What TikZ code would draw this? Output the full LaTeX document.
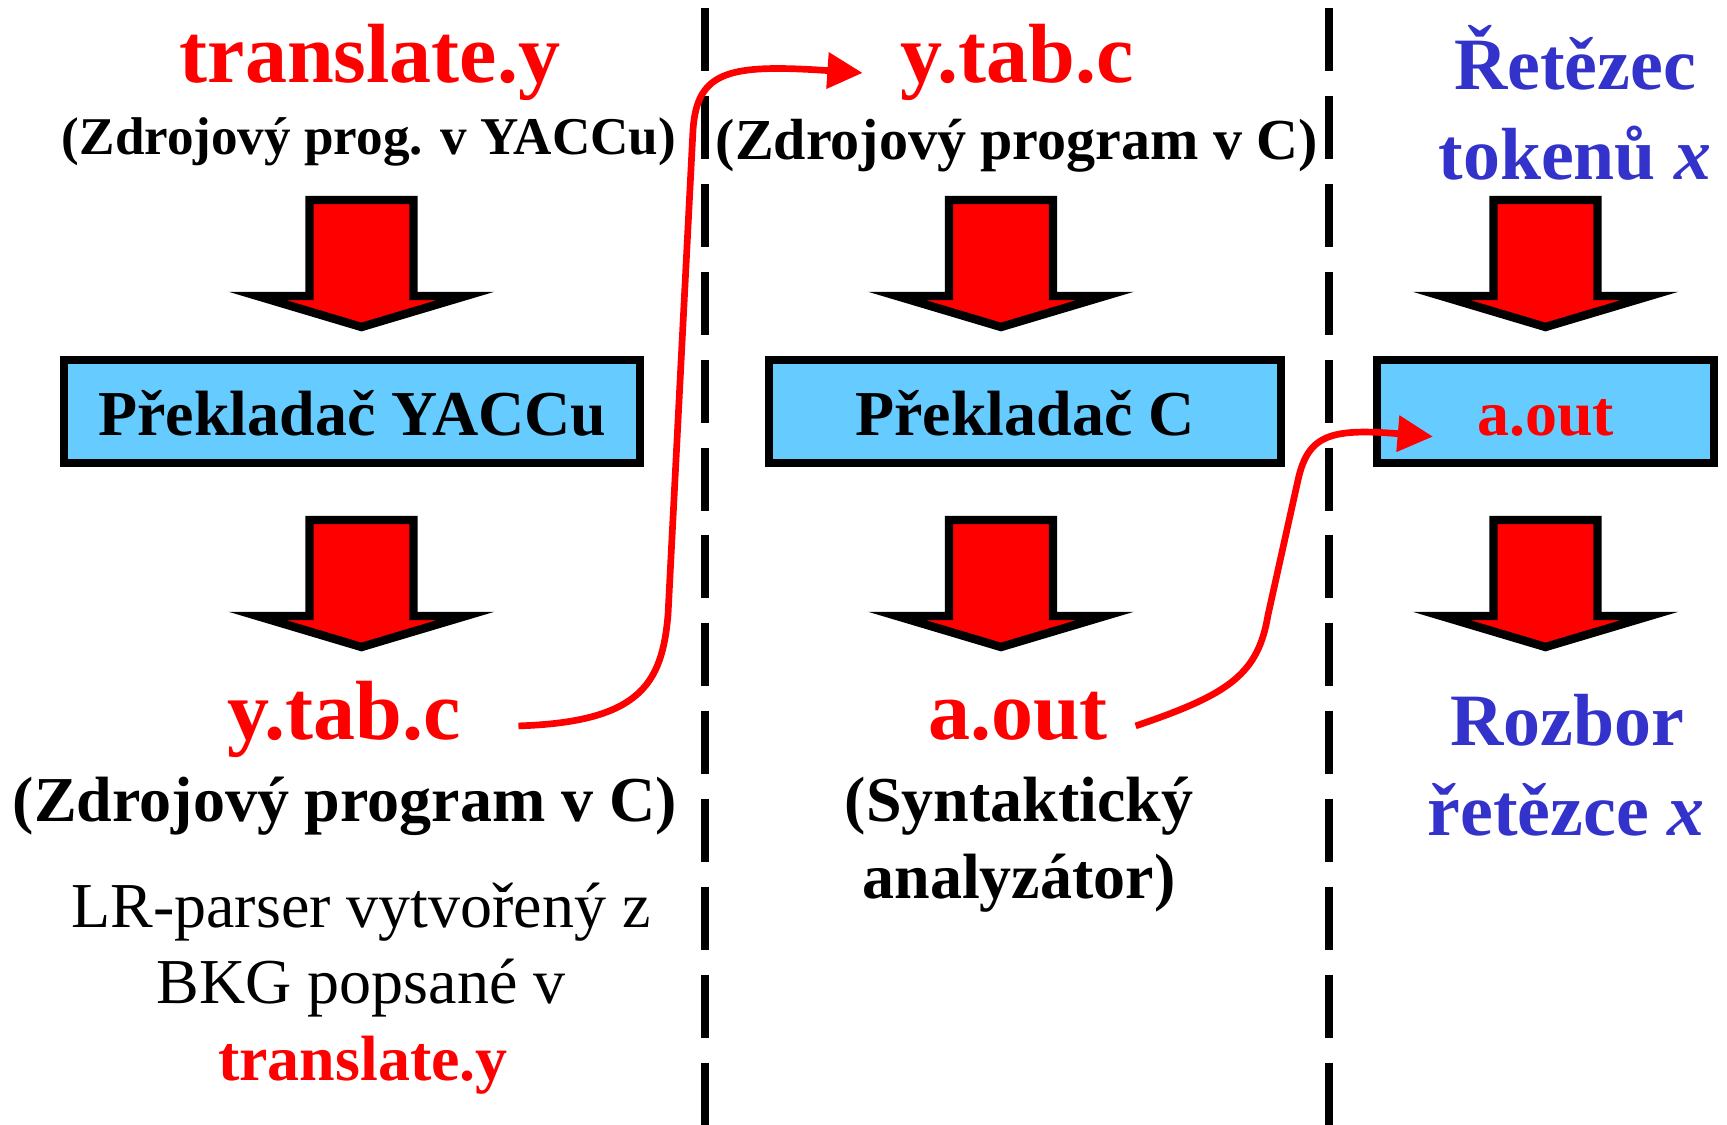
\documentclass[tikz,border=0pt]{standalone}
\usepackage{fontspec}
\setmainfont{Liberation Serif}
\usepackage{tikz}
\usetikzlibrary{calc,arrows.meta}

\definecolor{modra}{RGB}{51,51,204}
\definecolor{svetlemodra}{RGB}{102,204,255}

\tikzset{
  soubor/.style={font=\bfseries\fontsize{23.9pt}{28pt}\selectfont, text=red, inner sep=0pt, anchor=base},
  zavorka/.style={font=\bfseries\fontsize{#1}{#1}\selectfont, inner sep=0pt, anchor=base},
  zavorka/.default=18.2pt,
  obyc/.style={font=\fontsize{18.2pt}{22pt}\selectfont, inner sep=0pt, anchor=base},
  modry/.style={font=\bfseries\fontsize{21pt}{25pt}\selectfont, text=modra, inner sep=0pt, anchor=base},
  blok/.style={draw, line width=2.3pt, fill=svetlemodra, minimum height=1.033cm, inner sep=0pt,
    text height=13.7pt, text depth=0pt, font=\bfseries\fontsize{18.2pt}{22pt}\selectfont},
  carka/.style={line width=2.1pt, dash pattern=on 17.9pt off 7.1pt},
  spoj/.style={red, line width=1.9pt, -{Triangle[length=10pt,width=10pt]}},
  sipka/.pic={
    \draw[line width=2.4pt, fill=red, line join=miter]
      (-52,0) -- (52,0) -- (52,96) -- (104,96) -- (0,127) -- (-104,96) -- (-52,96) -- cycle;
  }
}

\begin{document}
\begin{tikzpicture}[x=0.01cm, y=-0.01cm]
    \useasboundingbox (0,0) rectangle (1727,1125);

    % Dělicí čáry
    \draw[carka] (705,8) -- (705,1125);
    \draw[carka] (1329,8) -- (1329,1125);

    % Překlad YACCem
    \node[soubor] (zdroj) at (370,83) {translate.y};
    \node[zavorka=15.1pt] (zdrojpop) at (369,155) {(Zdrojový prog. v YACCu)};
    \pic at (361.5,200) {sipka};
    \node[blok, minimum width=5.754cm] (yacc) at (352.3,411.6) {Překladač YACCu};
    \pic at (361.5,520) {sipka};
    \node[soubor] (ytabL) at (344,740) {y.tab.c};
    \node[zavorka] (ytabLpop) at (345,822) {(Zdrojový program v C)};
    \node[obyc] (lr1) at (361,927) {LR-parser vytvořený z};
    \node[obyc] (lr2) at (361,1003) {BKG popsané v};
    \node[zavorka, text=red] (lr3) at (363,1080) {translate.y};

    % Překlad v C
    \node[soubor] (ytabM) at (1017,83) {y.tab.c};
    \node[zavorka=16.5pt] (ytabMpop) at (1017,160) {(Zdrojový program v C)};
    \pic at (1001,200) {sipka};
    \node[blok, minimum width=5.12cm] (cc) at (1025,411.6) {Překladač C};
    \pic at (1001,520) {sipka};
    \node[soubor] (aoutM) at (1018,740) {a.out};
    \node[zavorka] (an1) at (1019,822) {(Syntaktický};
    \node[zavorka] (an2) at (1019,898) {analyzátor)};

    % Běh analyzátoru
    \node[modry] (ret1) at (1575,90) {Řetězec};
    \node[modry] (ret2) at (1575,180) {tokenů \textit{x}};
    \pic at (1545.5,200) {sipka};
    \node[blok, minimum width=3.37cm, text=red] (beh) at (1545.5,411.6) {a.out};
    \pic at (1545.5,520) {sipka};
    \node[modry] (roz1) at (1567,745) {Rozbor};
    \node[modry] (roz2) at (1566,835) {řetězce \textit{x}};

    % Spoje
    \draw[spoj] ($(ytabL.mid east)+(57,-6)$) .. controls (640,722) and (662,684) .. (668,615)
      -- (693,130) .. controls (697,70) and (730,64) .. ($(ytabM.mid west)+(-37,-2)$);
    \draw[spoj] ($(aoutM.mid east)+(27,-6)$) .. controls (1230,694) and (1258,674) .. (1268,615)
      -- (1298,480) .. controls (1308,435) and (1330,428) .. ($(beh.west)+(60,25)$);
\end{tikzpicture}
\end{document}
